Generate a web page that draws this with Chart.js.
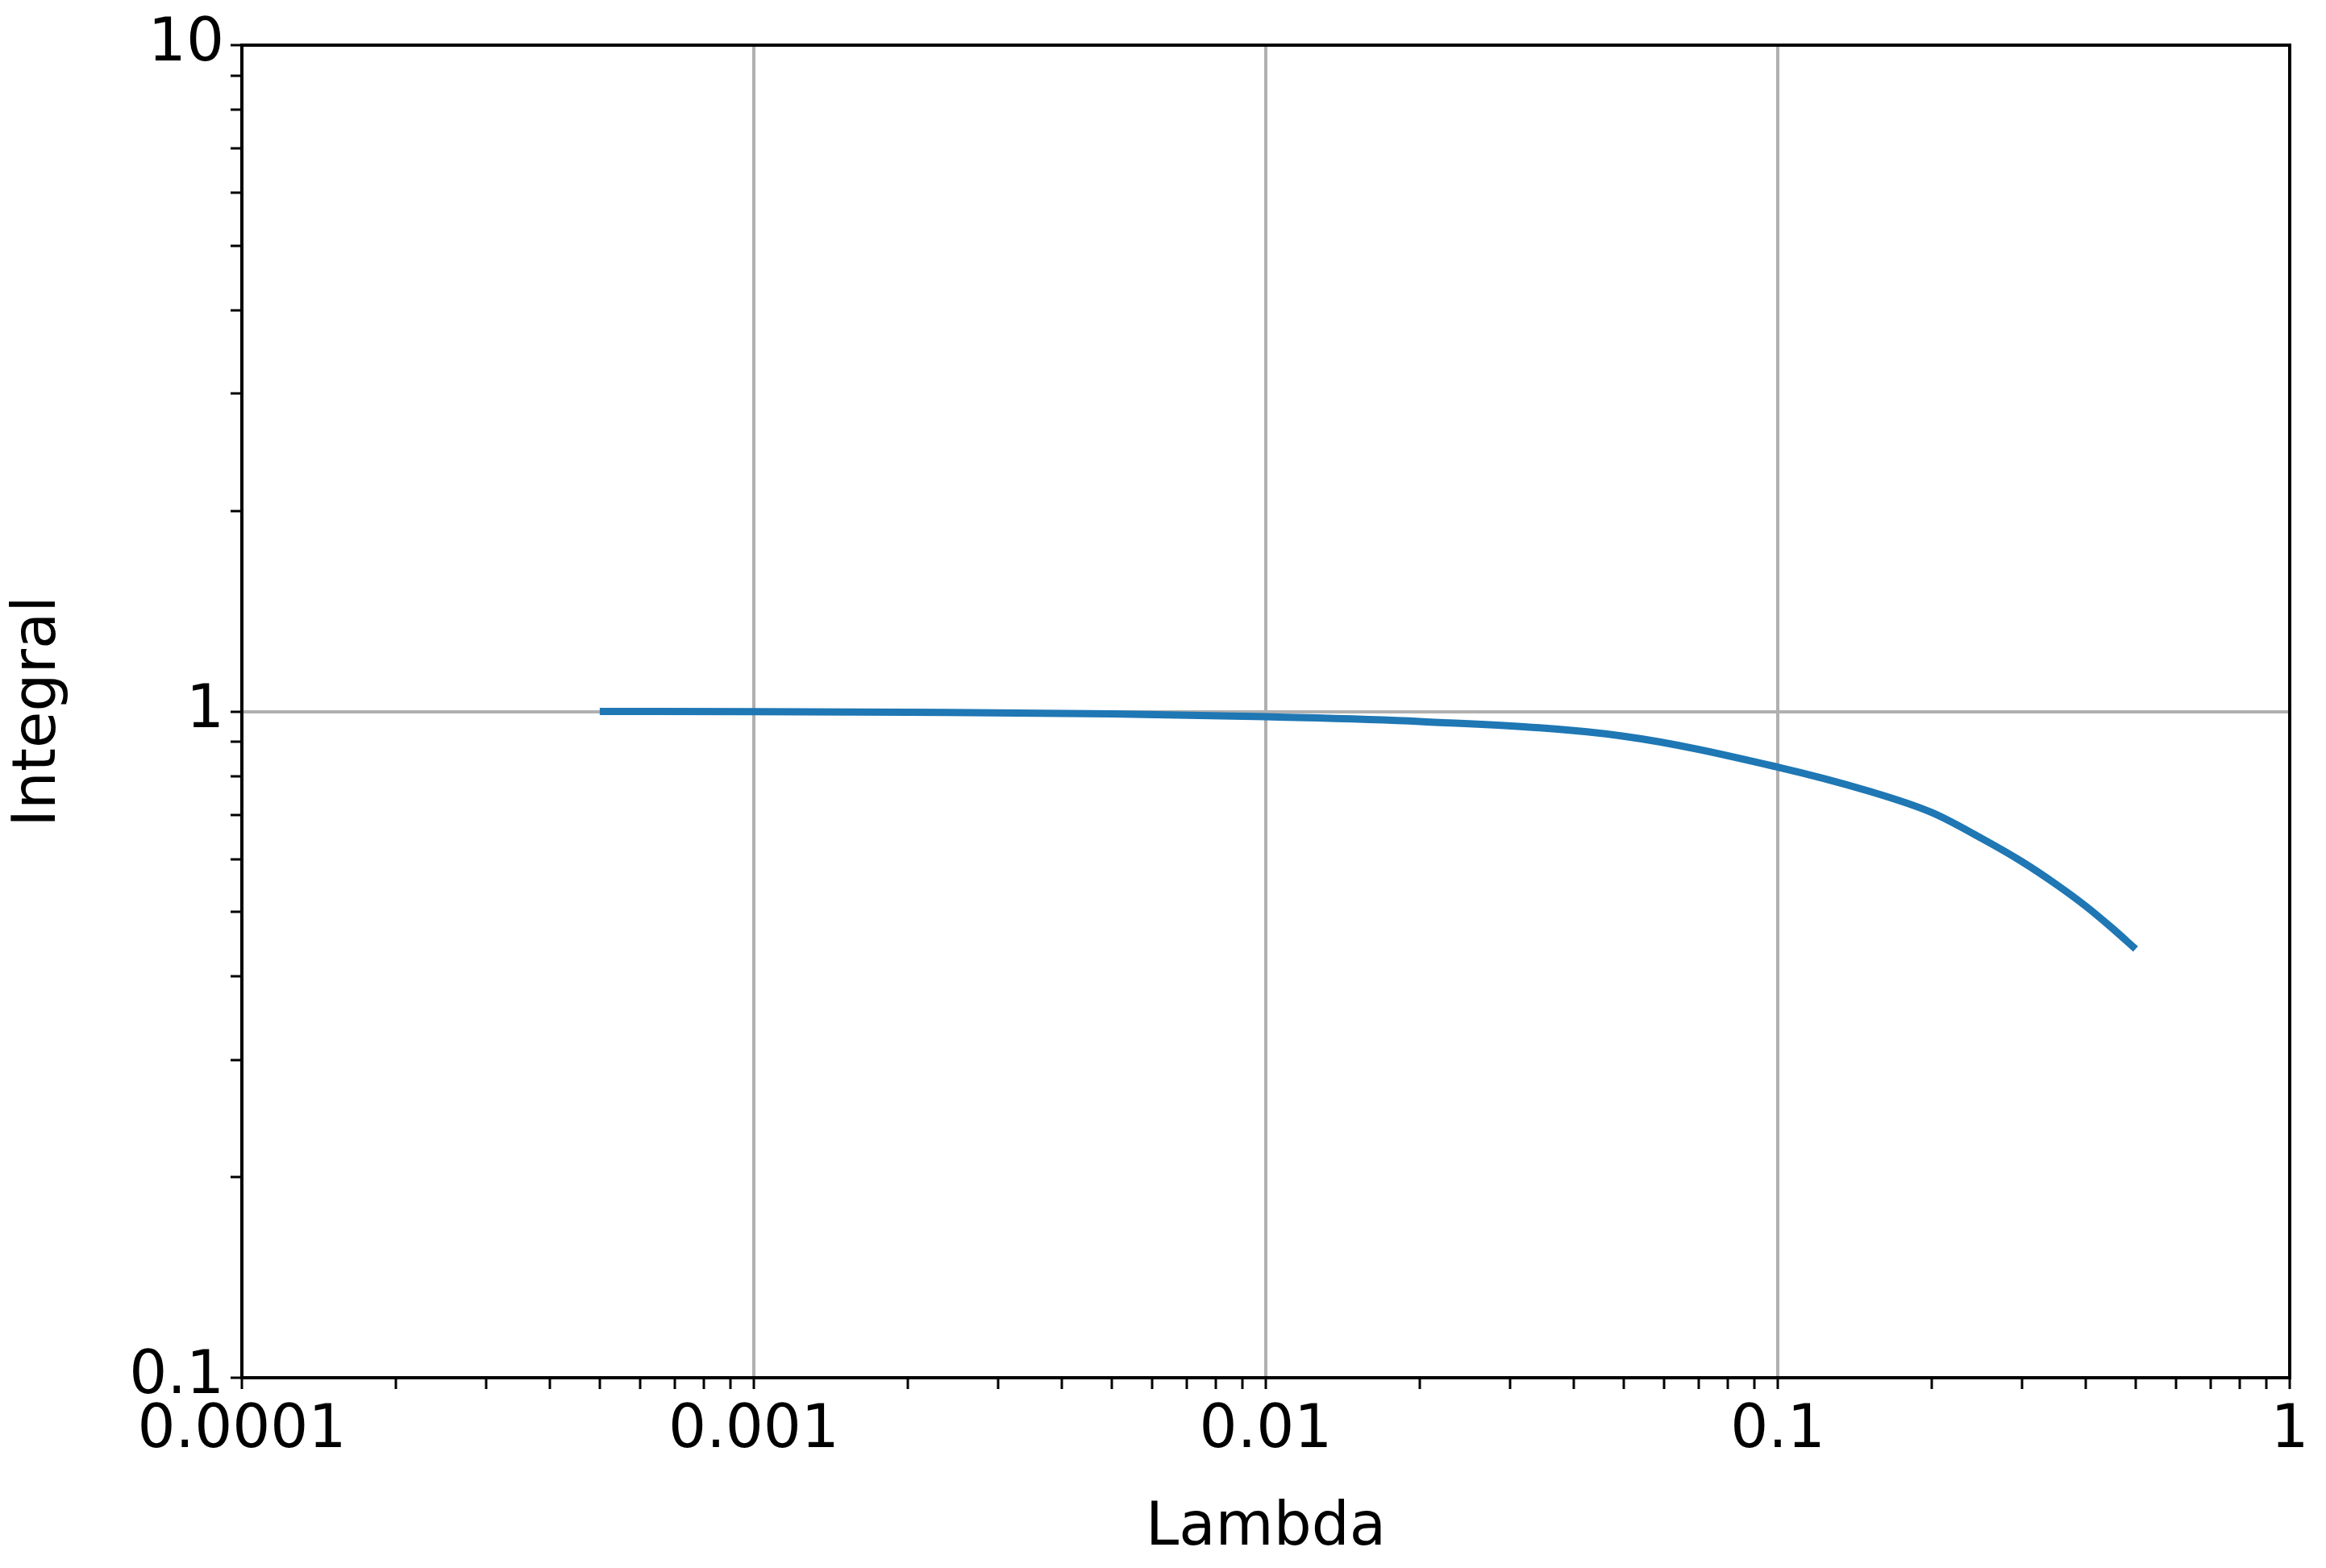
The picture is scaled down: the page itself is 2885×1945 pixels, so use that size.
<!DOCTYPE html>
<html>
<head>
<meta charset="utf-8">
<script src="https://cdn.jsdelivr.net/npm/chart.js@4.4.1/dist/chart.umd.min.js"></script>
<style>
  html, body { margin: 0; padding: 0; background: #fff; }
  #wrap { width: 2885px; height: 1945px; }
</style>
</head>
<body>
<div id="wrap"><canvas id="chart"></canvas></div>
<script>
// Data
const lambdaValues = [0.0005, 0.001, 0.002, 0.005, 0.01, 0.02, 0.05, 0.1, 0.15, 0.2, 0.25, 0.3, 0.35, 0.4, 0.45, 0.5];
const integralValues = [1.0, 0.999, 0.997, 0.992, 0.982, 0.966, 0.918, 0.825, 0.76, 0.705, 0.645, 0.595, 0.55, 0.51, 0.473, 0.44];
const xMajorTicks = [0.0001, 0.001, 0.01, 0.1, 1];
const yMajorTicks = [0.1, 1, 10];

function decadeTicks(min, max) {
    const out = [];
    for (let e = Math.round(Math.log10(min)); e < Math.round(Math.log10(max)); e++) {
        for (let m = 1; m < 10; m++) out.push({ value: m * Math.pow(10, e) });
    }
    out.push({ value: max });
    return out;
}

function isMajor(v, list) {
    return list.some(t => Math.abs(v - t) / t < 1e-6);
}

const framePlugin = {
    id: 'frame',
    afterDraw(chart) {
        const a = chart.chartArea;
        const c = chart.ctx;
        c.save();
        c.strokeStyle = '#000';
        c.lineWidth = 4;
        c.strokeRect(a.left, a.top, a.right - a.left, a.bottom - a.top);
        c.restore();
    }
};

const fontFamily = "'DejaVu Sans', sans-serif";

new Chart(document.getElementById('chart'), {
    type: 'line',
    data: {
        datasets: [{
            data: lambdaValues.map((x, i) => ({ x: x, y: integralValues[i] })),
            borderColor: '#1f77b4',
            borderWidth: 9,
            pointRadius: 0,
            cubicInterpolationMode: 'monotone',
            fill: false
        }]
    },
    options: {
        responsive: true,
        maintainAspectRatio: false,
        animation: false,
        devicePixelRatio: 1,
        layout: { padding: { top: 56, right: 45, left: 0, bottom: 0 } },
        plugins: { legend: { display: false }, tooltip: { enabled: false } },
        scales: {
            x: {
                type: 'logarithmic',
                min: 0.0001,
                max: 1,
                afterBuildTicks: axis => { axis.ticks = decadeTicks(0.0001, 1); },
                afterFit: axis => { axis.height = 236; },
                grid: {
                    color: c => isMajor(c.tick.value, xMajorTicks) ? '#b0b0b0' : 'rgba(0,0,0,0)',
                    lineWidth: 4,
                    tickColor: '#000',
                    tickLength: 14,
                    tickWidth: 3
                },
                border: { color: '#000', width: 4 },
                ticks: {
                    autoSkip: false,
                    maxRotation: 0,
                    color: '#000',
                    padding: 8,
                    font: { family: fontFamily, size: 74 },
                    callback: v => isMajor(v, xMajorTicks) ? String(v) : ''
                },
                title: {
                    display: true,
                    text: 'Lambda',
                    color: '#000',
                    font: { family: fontFamily, size: 74 },
                    padding: { top: 4 }
                }
            },
            y: {
                type: 'logarithmic',
                min: 0.1,
                max: 10,
                afterBuildTicks: axis => { axis.ticks = decadeTicks(0.1, 10); },
                afterFit: axis => { axis.width = 300; },
                grid: {
                    color: c => isMajor(c.tick.value, yMajorTicks) ? '#b0b0b0' : 'rgba(0,0,0,0)',
                    lineWidth: 4,
                    tickColor: '#000',
                    tickLength: 14,
                    tickWidth: 3
                },
                border: { color: '#000', width: 4 },
                ticks: {
                    autoSkip: false,
                    color: '#000',
                    padding: 8,
                    font: { family: fontFamily, size: 74 },
                    callback: v => isMajor(v, yMajorTicks) ? String(v) : ''
                },
                title: {
                    display: true,
                    text: 'Integral',
                    color: '#000',
                    font: { family: fontFamily, size: 74 },
                    padding: { bottom: 4 }
                }
            }
        }
    },
    plugins: [framePlugin]
});
</script>
</body>
</html>
